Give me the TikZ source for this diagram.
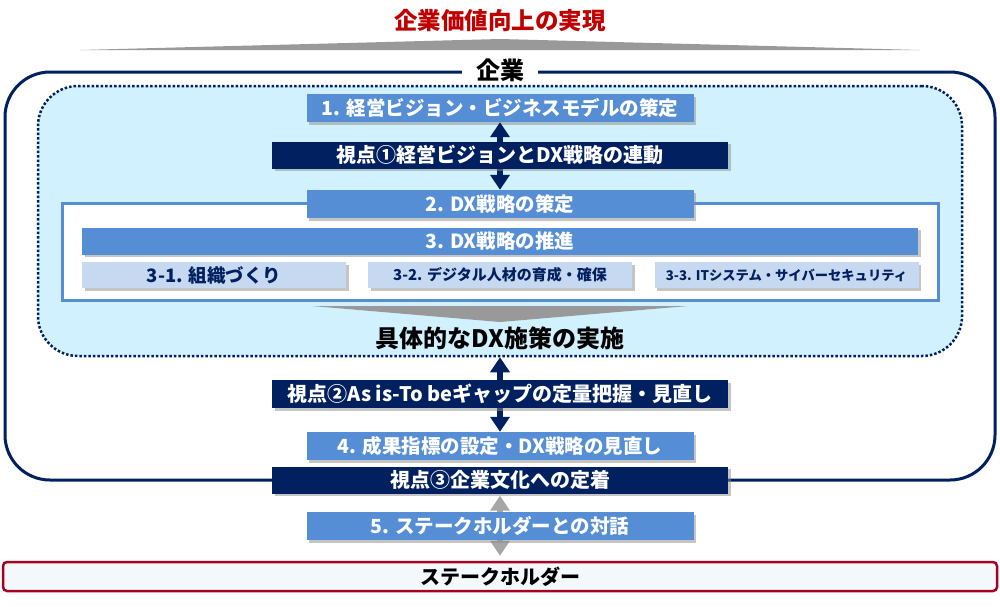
\documentclass[tikz,border=0pt]{standalone}
\usepackage{fontspec}
\setmainfont{Noto Sans CJK JP}
\usetikzlibrary{arrows.meta, positioning, shadows}
\definecolor{navycol}{RGB}{0,32,96}
\definecolor{midblue}{RGB}{85,142,213}
\definecolor{paleblue}{RGB}{198,217,241}
\definecolor{skyfill}{RGB}{208,241,253}
\definecolor{titlered}{RGB}{192,0,0}
\definecolor{wine}{RGB}{165,0,33}
\definecolor{mistfill}{RGB}{242,248,252}
\newcommand{\fs}[1]{\fontsize{#1}{#1}\selectfont\bfseries}

\begin{document}
\begin{tikzpicture}[x=1pt, y=-1pt,
    barshadow/.style={drop shadow={shadow xshift=2.5pt, shadow yshift=-2.5pt, fill=black!45}},
    stepbar/.style={fill=midblue, text=white, minimum width=387pt, minimum height=28pt, inner sep=0pt, font=\fs{19.5}, barshadow},
    viewbar/.style={fill=navycol, text=white, minimum width=456pt, minimum height=27pt, inner sep=0pt, font=\fs{20}, barshadow},
    subbar/.style={fill=paleblue, text=navycol, minimum width=264pt, minimum height=26pt, inner sep=0pt, barshadow},
    twoway/.style={{Triangle[width=19pt,length=15pt]}-{Triangle[width=19pt,length=15pt]}, line width=6pt, draw=navycol},
    grayway/.style={twoway, draw=black!35},
]
    \useasboundingbox (0,0) rectangle (1000,606);

    % Goal on top
    \node[font=\fs{23.5}, text=titlered] (goal) at (500,21) {企業価値向上の実現};
    \fill[black!40] (80,50) -- (500,39) -- (920,50) -- cycle;

    % Company frame
    \node[draw=navycol, line width=3pt, rounded corners=45pt, minimum width=990pt, minimum height=408pt] (corpframe) at (500,276) {};
    \node[fill=white, inner xsep=14pt, font=\fs{24}] (corp) at (500,70) {企業};

    % DX zone (dotted)
    \node[draw=navycol, fill=skyfill, line width=2.5pt, dash pattern=on 2.5pt off 2pt, rounded corners=40pt, minimum width=924pt, minimum height=270pt] (zone) at (500,221) {};

    % Strategy panel
    \node[draw=midblue, fill=white, line width=3pt, minimum width=876pt, minimum height=97pt, drop shadow={shadow xshift=2pt, shadow yshift=-2pt, fill=black!30}] (panel) at (500,251.5) {};

    % Steps 1 and 2, viewpoint 1
    \node[stepbar] (vision) at (500,108) {1. 経営ビジョン・ビジネスモデルの策定};
    \node[stepbar] (plan) at (500,204) {2. DX戦略の策定};
    \draw[twoway] (vision.south) -- (plan.north);
    \node[viewbar] (view1) at (500,155) {視点①経営ビジョンとDX戦略の連動};

    % Step 3 and its parts
    \node[stepbar, minimum width=836pt, minimum height=27pt] (promote) at (500,241) {3. DX戦略の推進};
    \node[subbar, font=\fs{18.5}] (org) at (214,275) {3-1. 組織づくり};
    \node[subbar, font=\fs{15}] (talent) at (500,275) {3-2. デジタル人材の育成・確保};
    \node[subbar, font=\fs{13.3}] (itsys) at (786.5,275) {3-3. ITシステム・サイバーセキュリティ};

    % Measures
    \fill[black!40] (312,306) -- (688,306) -- (500,322) -- cycle;
    \node[font=\fs{24}] (measure) at (500,338) {具体的なDX施策の実施};

    % Step 4, viewpoint 2
    \node[stepbar] (review) at (500,446) {4. 成果指標の設定・DX戦略の見直し};
    \draw[twoway] (zone.south) -- (review.north);
    \node[viewbar, minimum height=28pt] (view2) at (500,394) {視点②As is-To beギャップの定量把握・見直し};

    % Viewpoint 3, step 5, stakeholders
    \node[viewbar] (view3) at (500,480) {視点③企業文化への定着};
    \node[draw=wine, fill=mistfill, line width=2.5pt, rounded corners=4pt, minimum width=994pt, minimum height=29pt, font=\fs{20}] (stake) at (500,576.5) {ステークホルダー};
    \draw[grayway, shorten <=2pt, shorten >=5pt] (view3.south) -- (stake.north);
    \node[stepbar] (dialog) at (500,526) {5. ステークホルダーとの対話};
\end{tikzpicture}
\end{document}
